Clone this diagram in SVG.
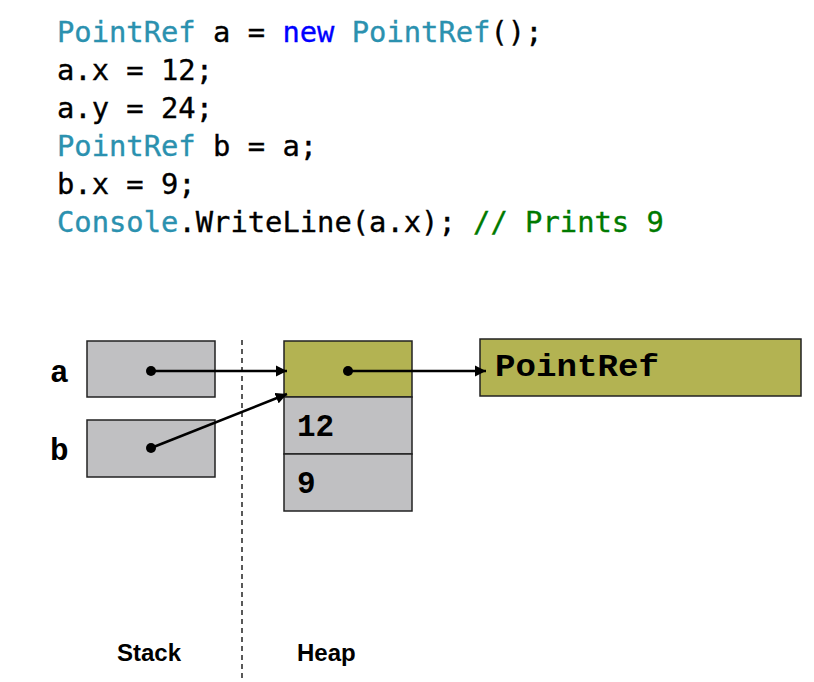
<svg xmlns="http://www.w3.org/2000/svg" width="814" height="682" viewBox="0 0 814 682">
<defs>
<style>
.code{font-family:"DejaVu Sans Mono","Liberation Mono",monospace;font-size:28.8px;fill:#000;stroke:#000;stroke-width:0.35}
.t{fill:#2B91AF;stroke:#2B91AF}.k{fill:#0000FF;stroke:#0000FF}.c{fill:#007A00;stroke:#007A00}
.box{stroke:#222;stroke-width:1.5}
.gray{fill:#C0C0C2}.olive{fill:#B3B352}
.mono{font-family:"Liberation Mono","Courier New",monospace;font-weight:bold;font-size:31px;fill:#000}
.lbl{font-family:"Liberation Sans",Arial,sans-serif;font-weight:bold;font-size:24px;fill:#000}
.conn{stroke:#000;stroke-width:2.5;fill:none}
</style>
<marker id="ah" viewBox="0 0 10 10" refX="10" refY="5" markerWidth="4.5" markerHeight="4.5" orient="auto" markerUnits="strokeWidth">
<path d="M0,0 L10,5 L0,10 z" fill="#000"/>
</marker>
</defs>
<rect width="814" height="682" fill="#fff"/>
<g id="code">
<text class="code" x="57" y="42"><tspan class="t">PointRef</tspan> a = <tspan class="k">new</tspan> <tspan class="t">PointRef</tspan>();</text>
<text class="code" x="57" y="80">a.x = 12;</text>
<text class="code" x="57" y="118">a.y = 24;</text>
<text class="code" x="57" y="156"><tspan class="t">PointRef</tspan> b = a;</text>
<text class="code" x="57" y="194">b.x = 9;</text>
<text class="code" x="57" y="232"><tspan class="t">Console</tspan>.WriteLine(a.x); <tspan class="c">// Prints 9</tspan></text>
</g>
<line x1="242" y1="340" x2="242" y2="680" stroke="#000" stroke-width="1.3" stroke-dasharray="5,4"/>
<g id="stack-a">
<rect class="box gray" x="87" y="341" width="128" height="56"/>
<text class="mono" x="50" y="382">a</text>
<circle cx="151" cy="371" r="5"/>
</g>
<g id="stack-b">
<rect class="box gray" x="87" y="420" width="128" height="57"/>
<text class="mono" x="50" y="460">b</text>
<circle cx="151" cy="448" r="5"/>
</g>
<g id="heap-obj">
<rect class="box olive" x="284" y="341" width="128" height="56"/>
<circle cx="348" cy="371" r="5"/>
<rect class="box gray" x="284" y="397" width="128" height="57"/>
<text class="mono" x="297" y="436">12</text>
<rect class="box gray" x="284" y="454" width="128" height="57"/>
<text class="mono" x="297" y="493">9</text>
</g>
<g id="pointref">
<rect class="box olive" x="480" y="339" width="321" height="57"/>
<text class="mono" x="495" y="376" textLength="164" lengthAdjust="spacingAndGlyphs" font-size="32">PointRef</text>
</g>
<g id="connectors">
<line class="conn" x1="151" y1="371" x2="287" y2="371" marker-end="url(#ah)"/>
<line class="conn" x1="151" y1="448" x2="287" y2="394" marker-end="url(#ah)"/>
<line class="conn" x1="348" y1="371" x2="486" y2="371" marker-end="url(#ah)"/>
</g>
<g id="labels">
<text class="lbl" x="117" y="661">Stack</text>
<text class="lbl" x="297" y="661">Heap</text>
</g>
</svg>
